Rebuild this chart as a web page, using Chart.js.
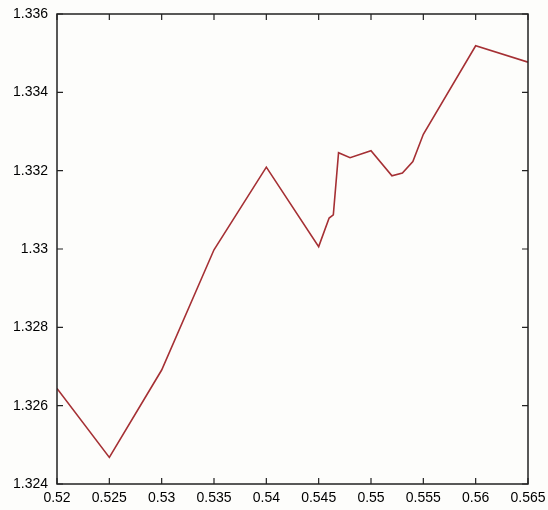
<!DOCTYPE html>
<html>
<head>
<meta charset="utf-8">
<script src="https://cdn.jsdelivr.net/npm/chart.js@4"></script>
<style>
  html, body { margin: 0; padding: 0; background: #fdfdfb; }
  #wrap { width: 548px; height: 510px; position: relative; }
</style>
</head>
<body>
<div id="wrap"><canvas id="myChart"></canvas></div>
<script>
// values
const xValues = [0.52, 0.525, 0.53, 0.535, 0.54, 0.545, 0.546, 0.5464, 0.5469, 0.548, 0.55, 0.552, 0.553, 0.554, 0.555, 0.56, 0.565];
const yValues = [1.32644, 1.32468, 1.32691, 1.32998, 1.33209, 1.33006, 1.33079, 1.33087, 1.33246, 1.33233, 1.33251, 1.33187, 1.33194, 1.33223, 1.33293, 1.33519, 1.33477];
const xTicks = [0.52, 0.525, 0.53, 0.535, 0.54, 0.545, 0.55, 0.555, 0.56, 0.565];
const yTicks = [1.324, 1.326, 1.328, 1.33, 1.332, 1.334, 1.336];

const points = xValues.map((x, i) => ({x: x, y: yValues[i]}));

// box round the plot with inward ticks on all four sides
const frame = {
    id: 'frame',
    afterDraw(chart) {
        const ctx = chart.ctx;
        const a = chart.chartArea;
        const xs = chart.scales.x, ys = chart.scales.y;
        ctx.save();
        ctx.strokeStyle = '#222';
        ctx.lineWidth = 1.5;
        ctx.strokeRect(a.left, a.top, a.right - a.left, a.bottom - a.top);
        ctx.lineWidth = 1.2;
        ctx.beginPath();
        xTicks.forEach(v => {
            const px = xs.getPixelForValue(v);
            ctx.moveTo(px, a.bottom); ctx.lineTo(px, a.bottom - 6);
            ctx.moveTo(px, a.top); ctx.lineTo(px, a.top + 6);
        });
        yTicks.forEach(v => {
            const py = ys.getPixelForValue(v);
            ctx.moveTo(a.left, py); ctx.lineTo(a.left + 6, py);
            ctx.moveTo(a.right, py); ctx.lineTo(a.right - 6, py);
        });
        ctx.stroke();
        ctx.restore();
    }
};

const config = {
    type: 'line',
    data: {
        datasets: [{
            data: points,
            borderColor: 'rgb(165, 48, 52)',
            borderWidth: 1.6,
            pointRadius: 0,
            fill: false,
            tension: 0
        }]
    },
    options: {
        responsive: true,
        maintainAspectRatio: false,
        animation: false,
        layout: { padding: { top: 14, right: 20, left: 0, bottom: 0 } },
        plugins: { legend: { display: false }, tooltip: { enabled: false } },
        scales: {
            x: {
                type: 'linear',
                min: 0.52, max: 0.565,
                afterBuildTicks: s => { s.ticks = xTicks.map(v => ({value: v})); },
                afterFit: s => { s.height = 26; s.paddingLeft = 0; s.paddingRight = 0; },
                grid: { display: false, drawTicks: false },
                border: { display: false },
                ticks: {
                    padding: 6,
                    color: '#000',
                    font: { family: 'Liberation Sans, Arial', size: 14 },
                    maxRotation: 0,
                    callback: v => String(+v.toFixed(3))
                }
            },
            y: {
                min: 1.324, max: 1.336,
                afterBuildTicks: s => { s.ticks = yTicks.map(v => ({value: v})); },
                afterFit: s => { s.width = 57; s.paddingTop = 0; s.paddingBottom = 0; },
                grid: { display: false, drawTicks: false },
                border: { display: false },
                ticks: {
                    padding: 9,
                    color: '#000',
                    font: { family: 'Liberation Sans, Arial', size: 14 },
                    callback: v => String(+v.toFixed(3))
                }
            }
        }
    },
    plugins: [frame]
};

new Chart(document.getElementById('myChart'), config);
</script>
</body>
</html>
